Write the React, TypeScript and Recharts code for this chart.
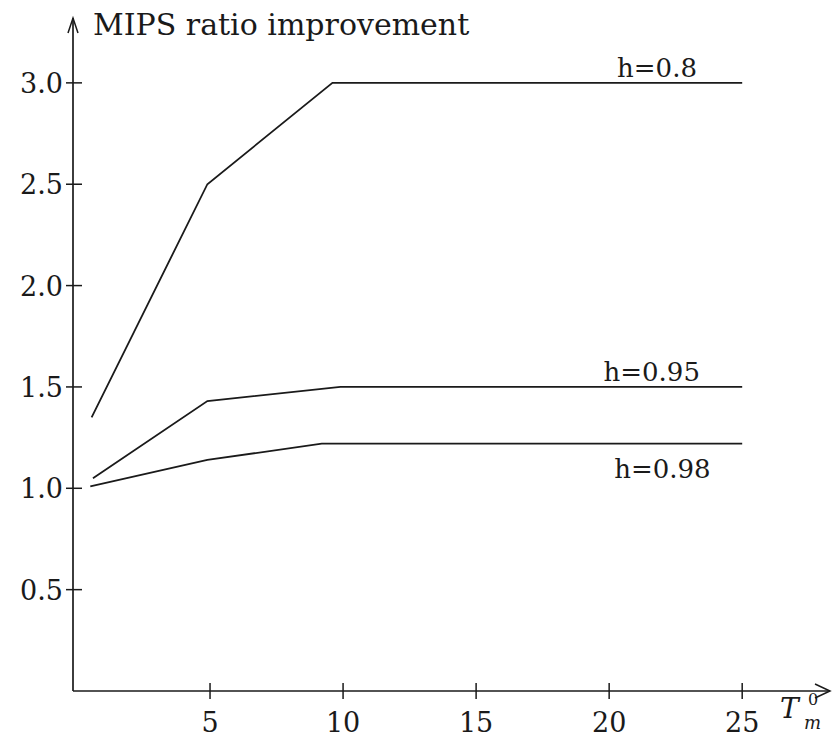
import React from "react";
import { LineChart, Line, XAxis, YAxis, ReferenceDot } from "recharts";

// T_m^0 positions of the break points, one list per curve
const tmH080 = [0.55, 4.9, 9.6, 25];
const tmH095 = [0.6, 4.9, 9.9, 25];
const tmH098 = [0.5, 4.9, 9.2, 25];

// MIPS ratio improvement
const mipsH080 = [1.35, 2.5, 3.0, 3.0];
const mipsH095 = [1.05, 1.43, 1.5, 1.5];
const mipsH098 = [1.01, 1.14, 1.22, 1.22];

const curveNames = ["h=0.8", "h=0.95", "h=0.98"];
const labelTm = [21.8, 21.6, 22.0];

const xTicks = [5, 10, 15, 20, 25];
const yTicks = [0.5, 1.0, 1.5, 2.0, 2.5, 3.0];

const X_MIN = -0.15;
const X_MAX = 28.3;
const Y_MAX = 3.32;

const FONT = "'DejaVu Serif', serif";
const INK = "#1a1a1a";

const toPoints = (xs: number[], ys: number[]) =>
  xs.map((x, i) => ({ tm: x, v: ys[i] }));

const curves = [
  toPoints(tmH080, mipsH080),
  toPoints(tmH095, mipsH095),
  toPoints(tmH098, mipsH098),
];

const XTick = (props: any) => {
  const { x, y, payload } = props;
  return (
    <g>
      <line x1={x} y1={y - 8} x2={x} y2={y + 8} stroke={INK} strokeWidth={1.5} />
      <text x={x} y={y + 41} textAnchor="middle" fontFamily={FONT} fontSize={27} fill={INK}>
        {payload.value}
      </text>
    </g>
  );
};

const YTick = (props: any) => {
  const { x, y, payload } = props;
  return (
    <g>
      <line x1={x - 7} y1={y} x2={x + 9} y2={y} stroke={INK} strokeWidth={1.5} />
      <text x={x - 10} y={y + 10} textAnchor="end" fontFamily={FONT} fontSize={27} fill={INK}>
        {Number(payload.value).toFixed(1)}
      </text>
    </g>
  );
};

// open arrowhead pointing right plus the T_m^0 axis name
const XArrow = (props: any) => {
  const { cx, cy } = props;
  return (
    <g>
      <path d={`M${cx - 15},${cy - 7} L${cx},${cy} L${cx - 15},${cy + 7}`} fill="none" stroke={INK} strokeWidth={1.5} />
      <text x={cx - 50} y={cy + 27} fontFamily={FONT} fontStyle="italic" fontSize={28} fill={INK}>T</text>
      <text x={cx - 22} y={cy + 14} fontFamily={FONT} fontSize={16} fill={INK}>0</text>
      <text x={cx - 26} y={cy + 38} fontFamily={FONT} fontStyle="italic" fontSize={18} fill={INK}>m</text>
    </g>
  );
};

// open arrowhead pointing up plus the y axis name
const YArrow = (props: any) => {
  const { cx, cy } = props;
  return (
    <g>
      <path d={`M${cx - 5},${cy + 15} L${cx},${cy} L${cx + 5},${cy + 15}`} fill="none" stroke={INK} strokeWidth={1.5} />
      <text x={cx + 20} y={cy + 17} fontFamily={FONT} fontSize={30} fill={INK}>
        MIPS ratio improvement
      </text>
    </g>
  );
};

const makeCurveLabel = (name: string, below: boolean) => (props: any) => {
  const { cx, cy } = props;
  return (
    <text
      x={cx}
      y={below ? cy + 34 : cy - 6}
      textAnchor="middle"
      fontFamily={FONT}
      fontSize={26}
      fill={INK}
    >
      {name}
    </text>
  );
};

export default function App() {
  const lastValues = [mipsH080, mipsH095, mipsH098].map((s) => s[s.length - 1]);
  return (
    <div style={{ position: "absolute", left: 0, top: 0, background: "#fff" }}>
      <LineChart width={832} height={738} margin={{ top: 18, right: 2, left: 0, bottom: 0 }}>
        <XAxis
          dataKey="tm"
          type="number"
          domain={[X_MIN, X_MAX]}
          ticks={xTicks}
          allowDataOverflow
          height={47}
          tickSize={0}
          tickMargin={0}
          tickLine={false}
          axisLine={{ stroke: INK, strokeWidth: 1.7 }}
          tick={<XTick />}
        />
        <YAxis
          dataKey="v"
          type="number"
          domain={[0, Y_MAX]}
          ticks={yTicks}
          allowDataOverflow
          width={73}
          tickSize={0}
          tickMargin={0}
          tickLine={false}
          axisLine={{ stroke: INK, strokeWidth: 1.7 }}
          tick={<YTick />}
        />
        {curves.map((pts, i) => (
          <Line
            key={curveNames[i]}
            data={pts}
            dataKey="v"
            type="linear"
            stroke={INK}
            strokeWidth={1.8}
            dot={false}
            activeDot={false}
            isAnimationActive={false}
          />
        ))}
        {curveNames.map((name, i) => (
          <ReferenceDot
            key={"lbl" + name}
            x={labelTm[i]}
            y={lastValues[i]}
            r={0}
            ifOverflow="visible"
            shape={makeCurveLabel(name, i === 2)}
          />
        ))}
        <ReferenceDot x={X_MAX} y={0} r={0} ifOverflow="visible" shape={<XArrow />} />
        <ReferenceDot x={X_MIN} y={Y_MAX} r={0} ifOverflow="visible" shape={<YArrow />} />
      </LineChart>
    </div>
  );
}
